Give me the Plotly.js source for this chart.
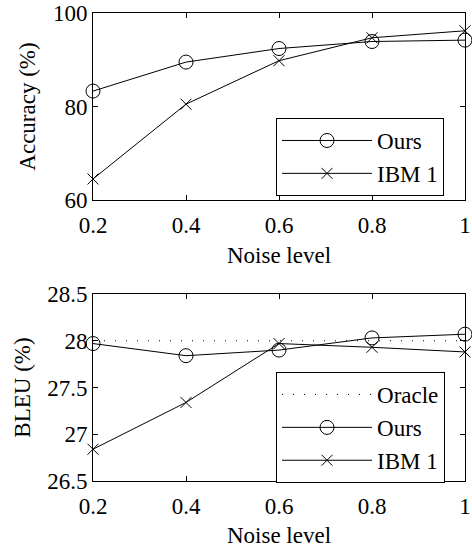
<!DOCTYPE html>
<html>
<head>
<meta charset="utf-8">
<script src="https://cdn.plot.ly/plotly-3.0.1.min.js"></script>
<style>
html,body{margin:0;padding:0;background:#fff;}
#chart{position:relative;width:472px;height:548px;z-index:1;}
#warm{position:absolute;left:0;top:0;font-family:"Liberation Serif";font-size:23px;color:#000;z-index:0;}
</style>
</head>
<body>
<div id="warm">Noise level Accuracy (%) BLEU (%) Ours IBM 1 Oracle 0.2 0.4 28.5</div>
<div id="chart"></div>
<span id="tick" style="display:none"></span>
<script>
const noise = [0.2, 0.4, 0.6, 0.8, 1.0];
const accOurs = [83.3, 89.5, 92.4, 93.9, 94.2];
const accIBM1 = [64.5, 80.5, 89.8, 94.7, 96.2];
const bleuOracle = [28.0, 28.0, 28.0, 28.0, 28.0];
const bleuOurs = [27.97, 27.84, 27.90, 28.03, 28.07];
const bleuIBM1 = [26.84, 27.34, 27.97, 27.93, 27.88];
const xTicks = [0.2, 0.4, 0.6, 0.8, 1.0];
const xTickText = ['0.2', '0.4', '0.6', '0.8', '1'];
const accTicks = [60, 80, 100];
const bleuTicks = [26.5, 27, 27.5, 28, 28.5];
const bleuTickText = ['26.5', '27', '27.5', '28', '28.5'];

const FONT = '"Liberation Serif", "Times New Roman", Times, serif';
const circ = {symbol: 'circle-open', size: 14, color: 'black', line: {width: 1, color: 'black'}};
const cross = {symbol: 'x-thin-open', size: 11, color: 'black', line: {width: 1, color: 'black'}};
const ln = {color: 'black', width: 1};

const traces = [
  {x: noise, y: accOurs, name: 'Ours', mode: 'lines+markers', line: ln, marker: circ, xaxis: 'x', yaxis: 'y', legend: 'legend', cliponaxis: false},
  {x: noise, y: accIBM1, name: 'IBM 1', mode: 'lines+markers', line: ln, marker: cross, xaxis: 'x', yaxis: 'y', legend: 'legend', cliponaxis: false},
  {x: noise, y: bleuOracle, name: 'Oracle', mode: 'lines', line: {color: 'black', width: 1, dash: '1px,10px'}, xaxis: 'x2', yaxis: 'y2', legend: 'legend2', cliponaxis: false},
  {x: noise, y: bleuOurs, name: 'Ours', mode: 'lines+markers', line: ln, marker: circ, xaxis: 'x2', yaxis: 'y2', legend: 'legend2', cliponaxis: false},
  {x: noise, y: bleuIBM1, name: 'IBM 1', mode: 'lines+markers', line: ln, marker: cross, xaxis: 'x2', yaxis: 'y2', legend: 'legend2', cliponaxis: false}
];

const axBase = {
  showline: true, mirror: 'ticks', linecolor: 'black', linewidth: 1,
  ticks: 'inside', ticklen: 5, tickcolor: 'black', tickwidth: 1,
  showgrid: false, zeroline: false, automargin: false,
  tickfont: {family: FONT, size: 23, color: 'black'}
};
const legBase = {
  font: {family: FONT, size: 23, color: 'black'},
  bgcolor: 'white', bordercolor: 'black', borderwidth: 1,
  xanchor: 'left', yanchor: 'top', itemwidth: 90, tracegroupgap: 0
};
const titleFont = {family: FONT, size: 23, color: 'black'};

const layout = {
  width: 472, height: 548,
  margin: {l: 93, r: 7, t: 13, b: 67},
  paper_bgcolor: 'white', plot_bgcolor: 'white',
  font: {family: FONT, size: 23, color: 'black'},
  xaxis: Object.assign({}, axBase, {domain: [0, 1], range: [0.2, 1.0], tickvals: xTicks, ticktext: xTickText, anchor: 'y', ticklabelstandoff: 4,
    title: {text: 'Noise level', font: titleFont, standoff: 10}}),
  yaxis: Object.assign({}, axBase, {domain: [0.6004, 1], range: [60, 100], tickvals: accTicks, anchor: 'x',
    title: {text: 'Accuracy (%)', font: titleFont, standoff: 10}}),
  xaxis2: Object.assign({}, axBase, {domain: [0, 1], range: [0.2, 1.0], tickvals: xTicks, ticktext: xTickText, anchor: 'y2', ticklabelstandoff: 4,
    title: {text: 'Noise level', font: titleFont, standoff: 10}}),
  yaxis2: Object.assign({}, axBase, {domain: [0, 0.3996], range: [26.5, 28.5], tickvals: bleuTicks, ticktext: bleuTickText, anchor: 'x2',
    title: {text: 'BLEU (%)', font: titleFont, standoff: 10}}),
  legend: Object.assign({}, legBase, {x: 0.492, y: 0.7756}),
  legend2: Object.assign({}, legBase, {x: 0.492, y: 0.2329}),
  showlegend: true
};

const config = {staticPlot: true, displayModeBar: false};
let n = 0;
function draw() {
  return Plotly.newPlot('chart', traces, layout, config).then(() => {
    n += 1;
    document.getElementById('tick').textContent = 'draw ' + n;
  });
}
draw();
[60, 250, 600, 1200, 2000].forEach(ms => setTimeout(draw, ms));
</script>
</body>
</html>
